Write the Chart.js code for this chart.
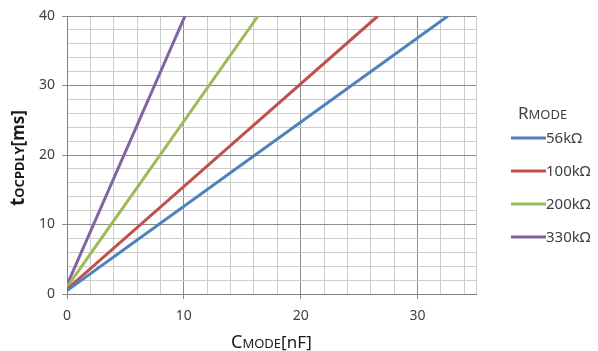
<!DOCTYPE html>
<html>
<head>
<meta charset="utf-8">
<script src="https://cdn.jsdelivr.net/npm/chart.js@4"></script>
<style>
  html, body { margin: 0; padding: 0; background: #fff; }
  #wrap { width: 598px; height: 351px; }
</style>
</head>
<body>
<div id="wrap"><canvas id="chart" width="598" height="351"></canvas></div>
<script>
// Series (Cmode in nF -> tOCPDLY in ms)
const seriesLabels = ['56kΩ', '100kΩ', '200kΩ', '330kΩ'];
const seriesColors = ['#4f81bd', '#c0504d', '#9bbb59', '#8064a2'];
const r56X = [0, 32.6],  r56Y = [0.5, 40];
const r100X = [0, 26.6], r100Y = [0.7, 40];
const r200X = [0, 16.35], r200Y = [1.0, 40];
const r330X = [0, 10.1], r330Y = [1.3, 40];
const xTicks = [0, 10, 20, 30];
const yTicks = [0, 10, 20, 30, 40];

const xs = [r56X, r100X, r200X, r330X];
const ys = [r56Y, r100Y, r200Y, r330Y];

const datasets = seriesLabels.map((lab, i) => ({
  label: lab,
  data: xs[i].map((x, j) => ({ x: x, y: ys[i][j] })),
  borderColor: seriesColors[i],
  backgroundColor: seriesColors[i],
  borderWidth: 3,
  pointRadius: 0,
  tension: 0
}));

const font = '"Noto Sans", "DejaVu Sans", sans-serif';
const major = v => v % 10 === 0;

// draws the small-caps style titles and the legend
function drawMixed(ctx, parts, x, y, align) {
  let total = 0;
  parts.forEach(p => { ctx.font = p[1]; total += ctx.measureText(p[0]).width; });
  let cx = align === 'center' ? x - total / 2 : x;
  parts.forEach(p => {
    ctx.font = p[1];
    ctx.fillText(p[0], cx, y);
    cx += ctx.measureText(p[0]).width;
  });
}

const extras = {
  id: 'extras',
  afterDraw(chart) {
    const ctx = chart.ctx;
    const a = chart.chartArea;
    ctx.save();
    ctx.textAlign = 'left';
    ctx.textBaseline = 'alphabetic';

    // x axis title
    ctx.fillStyle = '#1a1a1a';
    drawMixed(ctx, [
      ['C', '18px ' + font], ['MODE', '13px ' + font], ['[nF]', '17px ' + font]
    ], (a.left + a.right) / 2, 348, 'center');

    // y axis title
    ctx.save();
    ctx.translate(24, 158);
    ctx.rotate(-Math.PI / 2);
    drawMixed(ctx, [
      ['t', 'bold 19px ' + font], ['OCPDLY', 'bold 13px ' + font], ['[ms]', 'bold 17px ' + font]
    ], 0, 0, 'center');
    ctx.restore();

    // legend
    ctx.fillStyle = '#404040';
    drawMixed(ctx, [['R', '17px ' + font], ['MODE', '13px ' + font]], 518, 119, 'left');
    const rowY = [138, 171, 204, 237];
    chart.data.datasets.forEach((ds, i) => {
      ctx.strokeStyle = ds.borderColor;
      ctx.lineWidth = 3;
      ctx.beginPath();
      ctx.moveTo(511, rowY[i]);
      ctx.lineTo(546, rowY[i]);
      ctx.stroke();
      ctx.fillStyle = '#404040';
      ctx.font = '15px ' + font;
      ctx.textBaseline = 'middle';
      ctx.fillText(ds.label, 546, rowY[i] + 1);
      ctx.textBaseline = 'alphabetic';
    });
    ctx.restore();
  }
};

new Chart(document.getElementById('chart'), {
  type: 'line',
  data: { datasets: datasets },
  options: {
    responsive: false,
    animation: false,
    layout: { padding: { left: 20, right: 122, top: 16, bottom: 27 } },
    plugins: { legend: { display: false }, tooltip: { enabled: false } },
    scales: {
      x: {
        type: 'linear',
        min: 0, max: 35,
        afterFit: s => { s.height = 30; },
        afterBuildTicks: s => {
          s.ticks = [];
          for (let v = 0; v <= 34; v += 2) s.ticks.push({ value: v });
          s.ticks.push({ value: 35 });
        },
        ticks: {
          color: '#404040',
          font: { family: font, size: 14 },
          padding: 9,
          maxRotation: 0,
          autoSkip: false,
          callback: v => xTicks.includes(v) ? String(v) : ''
        },
        grid: {
          color: c => major(c.tick.value) ? '#8c8c8c' : '#cccccc',
          tickColor: c => xTicks.includes(c.tick.value) ? '#8c8c8c' : 'transparent',
          tickLength: 5,
          lineWidth: 1
        },
        border: { color: '#808080', width: 1 }
      },
      y: {
        min: 0, max: 40,
        afterFit: s => { s.width = 47; },
        afterBuildTicks: s => {
          s.ticks = [];
          for (let v = 0; v <= 40; v += 2) s.ticks.push({ value: v });
        },
        ticks: {
          color: '#404040',
          font: { family: font, size: 14 },
          padding: 7,
          autoSkip: false,
          callback: v => yTicks.includes(v) ? String(v) : ''
        },
        grid: {
          color: c => major(c.tick.value) ? '#8c8c8c' : '#cccccc',
          tickColor: c => yTicks.includes(c.tick.value) ? '#8c8c8c' : 'transparent',
          tickLength: 5,
          lineWidth: 1
        },
        border: { color: '#808080', width: 1 }
      }
    }
  },
  plugins: [extras]
});
</script>
</body>
</html>
